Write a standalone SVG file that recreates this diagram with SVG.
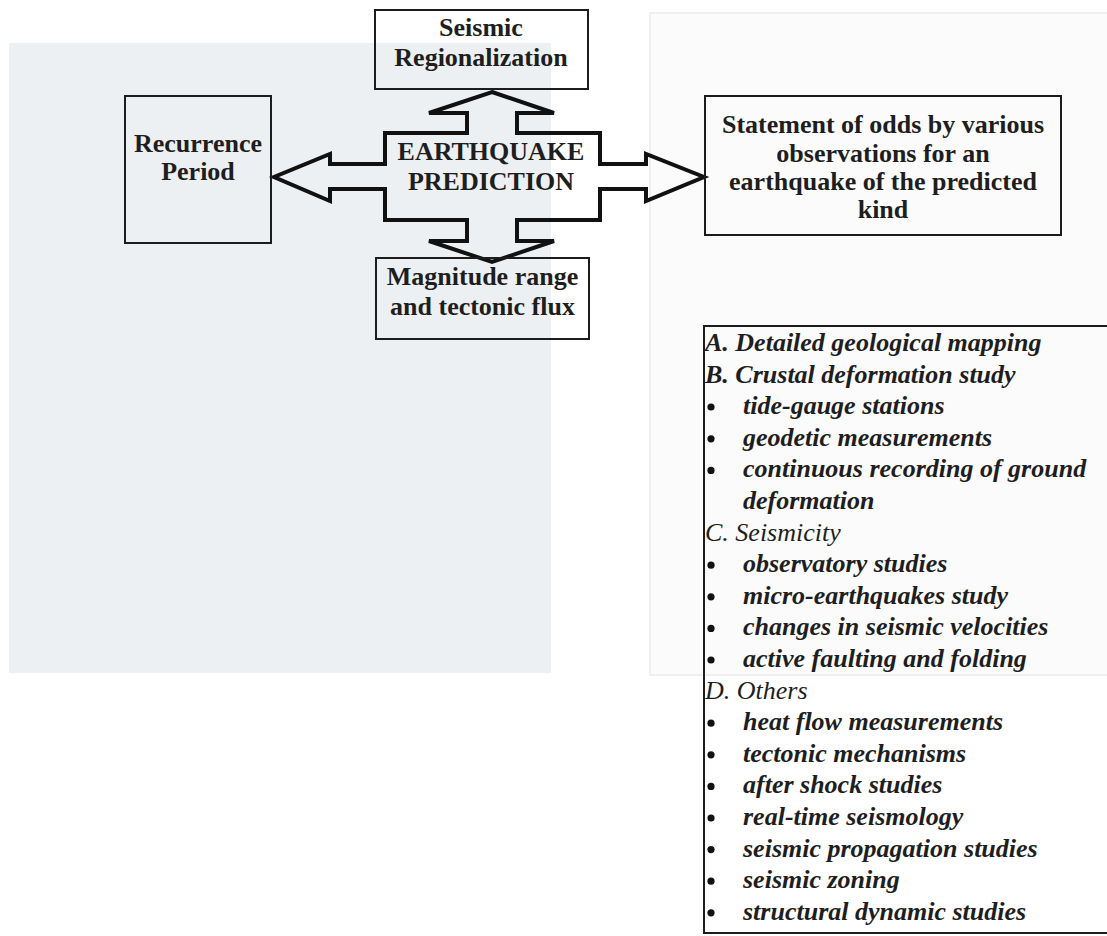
<svg xmlns="http://www.w3.org/2000/svg" width="1107" height="936" viewBox="0 0 1107 936">
  <style>
    .box { fill: none; stroke: #1c1c1c; stroke-width: 2; }
    .cross { fill: none; stroke: #111; stroke-width: 4; stroke-linejoin: miter; }
    .t { font-family: "Liberation Serif", "Times New Roman", serif; font-size: 26px; font-weight: bold; fill: #1e1e1e; text-anchor: middle; }
    .li { font-family: "Liberation Serif", "Times New Roman", serif; font-size: 26px; font-weight: bold; font-style: italic; fill: #1e1e1e; }
    .lh { font-family: "Liberation Serif", "Times New Roman", serif; font-size: 26px; font-weight: normal; font-style: italic; fill: #1e1e1e; }
    .bul { fill: #111; }
  </style>
  <rect x="0" y="0" width="1107" height="936" fill="#ffffff"/>
  <!-- scanned background panels -->
  <rect x="9" y="43" width="542" height="630" fill="#edf0f2"/>
  <rect x="650" y="13" width="470" height="662" fill="#fbfbfb" stroke="#efefef" stroke-width="2"/>

  <g id="connectors">
    <polygon class="cross" points="492,92 554,113 517,113 517,133 600,133 600,164 646,164 646,154 704,177 646,201 646,189 600,189 600,220 517,220 517,241 554,241 492,262 429,241 467,241 467,220 385,220 385,189 330,189 330,201 274,177 330,154 330,164 385,164 385,133 467,133 467,113 429,113"/>
  </g>

  <g id="node-earthquake-prediction">
    <text class="t" x="491" y="160">EARTHQUAKE</text>
    <text class="t" x="491" y="190">PREDICTION</text>
  </g>

  <g id="node-seismic-regionalization">
    <rect class="box" x="375" y="10" width="213" height="79"/>
    <text class="t" x="481" y="36">Seismic</text>
    <text class="t" x="481" y="66">Regionalization</text>
  </g>

  <g id="node-recurrence-period">
    <rect class="box" x="125" y="96" width="146" height="147"/>
    <text class="t" x="198" y="152">Recurrence</text>
    <text class="t" x="198" y="180">Period</text>
  </g>

  <g id="node-magnitude">
    <rect class="box" x="376" y="258" width="213" height="81"/>
    <text class="t" x="482.5" y="285">Magnitude range</text>
    <text class="t" x="482.5" y="315">and tectonic flux</text>
  </g>

  <g id="node-statement">
    <rect class="box" x="705" y="96" width="356" height="139"/>
    <text class="t" x="883" y="133">Statement of odds by various</text>
    <text class="t" x="883" y="162">observations for an</text>
    <text class="t" x="883" y="190">earthquake of the predicted</text>
    <text class="t" x="883" y="218">kind</text>
  </g>

  <g id="node-methods">
    <rect class="box" x="704" y="326" width="420" height="607"/>
    <text class="li" x="705" y="351">A. Detailed geological mapping</text>
    <text class="li" x="705" y="382.6">B. Crustal deformation study</text>
    <circle class="bul" cx="711" cy="407" r="3.6"/>
    <text class="li" x="743" y="414.2">tide-gauge stations</text>
    <circle class="bul" cx="711" cy="438.8" r="3.6"/>
    <text class="li" x="743" y="445.8">geodetic measurements</text>
    <circle class="bul" cx="711" cy="470.4" r="3.6"/>
    <text class="li" x="743" y="477.4">continuous recording of ground</text>
    <text class="li" x="743" y="509">deformation</text>
    <text class="lh" x="705" y="540.6">C. Seismicity</text>
    <circle class="bul" cx="711" cy="565.2" r="3.6"/>
    <text class="li" x="743" y="572.2">observatory studies</text>
    <circle class="bul" cx="711" cy="596.8" r="3.6"/>
    <text class="li" x="743" y="603.8">micro-earthquakes study</text>
    <circle class="bul" cx="711" cy="628.4" r="3.6"/>
    <text class="li" x="743" y="635.4">changes in seismic velocities</text>
    <circle class="bul" cx="711" cy="660" r="3.6"/>
    <text class="li" x="743" y="667">active faulting and folding</text>
    <text class="lh" x="705" y="698.6">D. Others</text>
    <circle class="bul" cx="711" cy="723.2" r="3.6"/>
    <text class="li" x="743" y="730.2">heat flow measurements</text>
    <circle class="bul" cx="711" cy="754.8" r="3.6"/>
    <text class="li" x="743" y="761.8">tectonic mechanisms</text>
    <circle class="bul" cx="711" cy="786.4" r="3.6"/>
    <text class="li" x="743" y="793.4">after shock studies</text>
    <circle class="bul" cx="711" cy="818" r="3.6"/>
    <text class="li" x="743" y="825">real-time seismology</text>
    <circle class="bul" cx="711" cy="849.6" r="3.6"/>
    <text class="li" x="743" y="856.6">seismic propagation studies</text>
    <circle class="bul" cx="711" cy="881.2" r="3.6"/>
    <text class="li" x="743" y="888.2">seismic zoning</text>
    <circle class="bul" cx="711" cy="912.8" r="3.6"/>
    <text class="li" x="743" y="919.8">structural dynamic studies</text>
  </g>
</svg>
